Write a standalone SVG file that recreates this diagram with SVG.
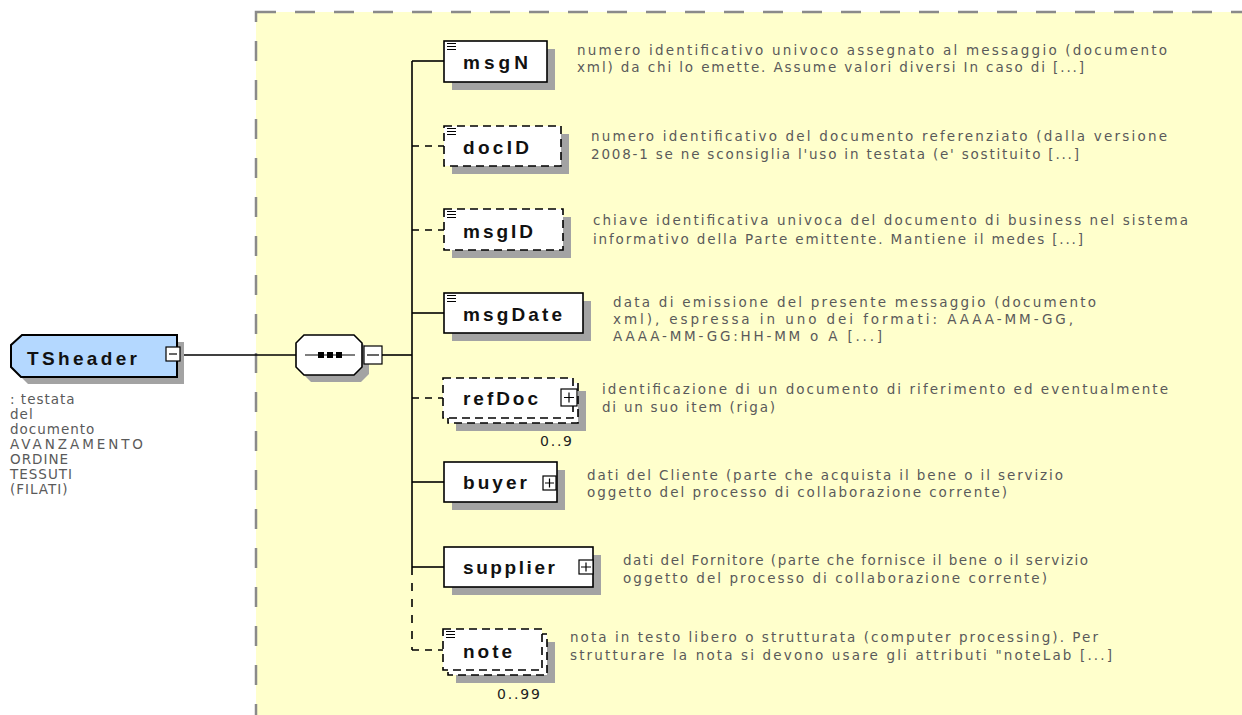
<svg xmlns="http://www.w3.org/2000/svg" width="1242" height="715" viewBox="0 0 1242 715">
<style>
.bg{fill:#ffffcc;stroke:#8a8a8a;stroke-width:2.5;stroke-dasharray:20 19}
.box{fill:#ffffff;stroke:#000;stroke-width:1.6}
.opt{fill:#ffffff;stroke:#000;stroke-width:1.6;stroke-dasharray:8 5}
.shd{fill:#a3a3a3;stroke:none}
.ln{stroke:#000;stroke-width:1.6;fill:none}
.dl{stroke:#000;stroke-width:1.6;fill:none;stroke-dasharray:7 6}
.lbl{font-family:"Liberation Sans",Arial,sans-serif;font-weight:bold;font-size:19px;fill:#111}
.desc{font-family:"DejaVu Sans","Liberation Sans",sans-serif;font-size:13.5px;fill:#5a5a5a}
.mult{font-family:"DejaVu Sans","Liberation Sans",sans-serif;font-size:14px;fill:#222}
.ic{stroke:#000;stroke-width:1.2}
.pm{fill:#fff;stroke:#000;stroke-width:1.2}
</style>
<rect x="0" y="0" width="1242" height="715" fill="#ffffff"/>
<rect class="bg" x="256" y="12" width="1020" height="740"/>

<g id="connectors">
  <line class="ln" x1="180" y1="355" x2="296" y2="355"/>
  <line class="ln" x1="382" y1="355" x2="412" y2="355"/>
  <line class="ln" x1="412" y1="61" x2="412" y2="567"/>
  <line class="dl" x1="412" y1="567" x2="412" y2="650" style="stroke-dasharray:8 8"/>
  <line class="ln" x1="412" y1="61" x2="444" y2="61"/>
  <line class="dl" x1="412" y1="146" x2="444" y2="146"/>
  <line class="dl" x1="412" y1="230" x2="444" y2="230"/>
  <line class="ln" x1="412" y1="313" x2="444" y2="313"/>
  <line class="dl" x1="412" y1="398" x2="443" y2="398"/>
  <line class="ln" x1="412" y1="482" x2="444" y2="482"/>
  <line class="ln" x1="412" y1="567" x2="444" y2="567"/>
  <line class="dl" x1="412" y1="650" x2="443" y2="650"/>
</g>

<g id="TSheader">
  <path class="shd" d="M29,342 L184,342 L184,384 L28,384 L18,374 L18,352 Z"/>
  <path d="M22,335 L177,335 L177,377 L21,377 L11,367 L11,345 Z" fill="#b4d8ff" stroke="#000" stroke-width="2"/>
  <text class="lbl" x="27" y="365" font-size="19" textLength="110" lengthAdjust="spacing">TSheader</text>
  <rect class="pm" x="166" y="347" width="14" height="14"/>
  <line class="ic" x1="169" y1="354" x2="177" y2="354"/>
  <g class="desc" letter-spacing="1">
    <text x="10" y="404">: testata</text>
    <text x="10" y="419">del</text>
    <text x="10" y="434">documento</text>
    <text x="10" y="449" textLength="134" lengthAdjust="spacing">AVANZAMENTO</text>
    <text x="10" y="464">ORDINE</text>
    <text x="10" y="479">TESSUTI</text>
    <text x="10" y="494">(FILATI)</text>
  </g>
</g>

<g id="sequence">
  <path class="shd" d="M311,342 L361,342 L369,350 L369,374 L361,382 L311,382 L303,374 L303,350 Z"/>
  <path d="M304,335 L354,335 L362,343 L362,367 L354,375 L304,375 L296,367 L296,343 Z" fill="#fff" stroke="#000" stroke-width="1.6"/>
  <line x1="305" y1="355" x2="355" y2="355" stroke="#000" stroke-width="1.2"/>
  <rect x="318" y="352" width="6" height="6" fill="#000"/>
  <rect x="327" y="352" width="6" height="6" fill="#000"/>
  <rect x="336" y="352" width="6" height="6" fill="#000"/>
  <rect class="pm" x="364" y="346" width="18" height="18"/>
  <line class="ic" x1="367" y1="355" x2="379" y2="355"/>
</g>

<g id="msgN">
  <rect class="shd" x="452" y="49" width="103" height="41"/>
  <rect class="box" x="444" y="41" width="103" height="41"/>
  <path class="ic" d="M447,43.5 H456 M447,46.5 H456 M447,49.5 H456"/>
  <text class="lbl" x="463" y="69" textLength="65" lengthAdjust="spacing">msgN</text>
  <text class="desc" x="577" y="55" textLength="590" lengthAdjust="spacing">numero identificativo univoco assegnato al messaggio (documento</text>
  <text class="desc" x="577" y="72" textLength="507" lengthAdjust="spacing">xml) da chi lo emette. Assume valori diversi In caso di [...]</text>
</g>

<g id="docID">
  <rect class="shd" x="452" y="134" width="117" height="40"/>
  <rect class="opt" x="444" y="126" width="117" height="40"/>
  <path class="ic" d="M447,128.5 H456 M447,131.5 H456 M447,134.5 H456"/>
  <text class="lbl" x="463" y="154" textLength="66" lengthAdjust="spacing">docID</text>
  <text class="desc" x="591" y="141" textLength="576" lengthAdjust="spacing">numero identificativo del documento referenziato (dalla versione</text>
  <text class="desc" x="591" y="159" textLength="488" lengthAdjust="spacing">2008-1 se ne sconsiglia l'uso in testata (e' sostituito [...]</text>
</g>

<g id="msgID">
  <rect class="shd" x="452" y="217" width="119" height="41"/>
  <rect class="opt" x="444" y="209" width="119" height="41"/>
  <path class="ic" d="M447,211.5 H456 M447,214.5 H456 M447,217.5 H456"/>
  <text class="lbl" x="463" y="238" textLength="70" lengthAdjust="spacing">msgID</text>
  <text class="desc" x="593" y="225" textLength="595" lengthAdjust="spacing">chiave identificativa univoca del documento di business nel sistema</text>
  <text class="desc" x="593" y="244" textLength="490" lengthAdjust="spacing">informativo della Parte emittente. Mantiene il medes [...]</text>
</g>

<g id="msgDate">
  <rect class="shd" x="452" y="301" width="139" height="40"/>
  <rect class="box" x="444" y="293" width="139" height="40"/>
  <path class="ic" d="M447,295.5 H456 M447,298.5 H456 M447,301.5 H456"/>
  <text class="lbl" x="463" y="321" textLength="99" lengthAdjust="spacing">msgDate</text>
  <text class="desc" x="613" y="307" textLength="483" lengthAdjust="spacing">data di emissione del presente messaggio (documento</text>
  <text class="desc" x="613" y="324" textLength="460" lengthAdjust="spacing">xml), espressa in uno dei formati: AAAA-MM-GG,</text>
  <text class="desc" x="613" y="341" textLength="269" lengthAdjust="spacing">AAAA-MM-GG:HH-MM o A [...]</text>
</g>

<g id="refDoc">
  <rect class="shd" x="456" y="391" width="130" height="40"/>
  <rect class="opt" x="448" y="383" width="130" height="40"/>
  <rect class="opt" x="443" y="378" width="130" height="40"/>
  <text class="lbl" x="463" y="405" textLength="75" lengthAdjust="spacing">refDoc</text>
  <rect class="pm" x="561" y="389" width="16" height="17"/>
  <path class="ic" d="M564,397.5 H574 M569,392.5 V402.5"/>
  <text class="mult" x="572" y="446" text-anchor="end" textLength="32" lengthAdjust="spacing">0..9</text>
  <text class="desc" x="602" y="394" textLength="566" lengthAdjust="spacing">identificazione di un documento di riferimento ed eventualmente</text>
  <text class="desc" x="602" y="412" textLength="173" lengthAdjust="spacing">di un suo item (riga)</text>
</g>

<g id="buyer">
  <rect class="shd" x="452" y="470" width="113" height="40"/>
  <rect class="box" x="444" y="462" width="113" height="40"/>
  <text class="lbl" x="463" y="489" textLength="64" lengthAdjust="spacing">buyer</text>
  <rect class="pm" x="543" y="476" width="13" height="14"/>
  <path class="ic" d="M545,483 H554 M549.5,478.5 V487.5"/>
  <text class="desc" x="587" y="480" textLength="476" lengthAdjust="spacing">dati del Cliente (parte che acquista il bene o il servizio</text>
  <text class="desc" x="587" y="497" textLength="420" lengthAdjust="spacing">oggetto del processo di collaborazione corrente)</text>
</g>

<g id="supplier">
  <rect class="shd" x="452" y="555" width="149" height="40"/>
  <rect class="box" x="444" y="547" width="149" height="40"/>
  <text class="lbl" x="463" y="574" textLength="92" lengthAdjust="spacing">supplier</text>
  <rect class="pm" x="579" y="560" width="14" height="14"/>
  <path class="ic" d="M581,567 H591 M586,562.5 V571.5"/>
  <text class="desc" x="623" y="565" textLength="465" lengthAdjust="spacing">dati del Fornitore (parte che fornisce il bene o il servizio</text>
  <text class="desc" x="623" y="583" textLength="424" lengthAdjust="spacing">oggetto del processo di collaborazione corrente)</text>
</g>

<g id="note">
  <rect class="shd" x="456" y="642" width="99" height="41"/>
  <rect class="opt" x="448" y="634" width="99" height="41"/>
  <rect class="opt" x="443" y="629" width="99" height="41"/>
  <path class="ic" d="M446,631.5 H455 M446,634.5 H455 M446,637.5 H455"/>
  <text class="lbl" x="463" y="658" textLength="49" lengthAdjust="spacing">note</text>
  <text class="mult" x="540" y="699" text-anchor="end" textLength="43" lengthAdjust="spacing">0..99</text>
  <text class="desc" x="570" y="642" textLength="528" lengthAdjust="spacing">nota in testo libero o strutturata (computer processing). Per</text>
  <text class="desc" x="570" y="660" textLength="542" lengthAdjust="spacing">strutturare la nota si devono usare gli attributi "noteLab [...]</text>
</g>
</svg>
